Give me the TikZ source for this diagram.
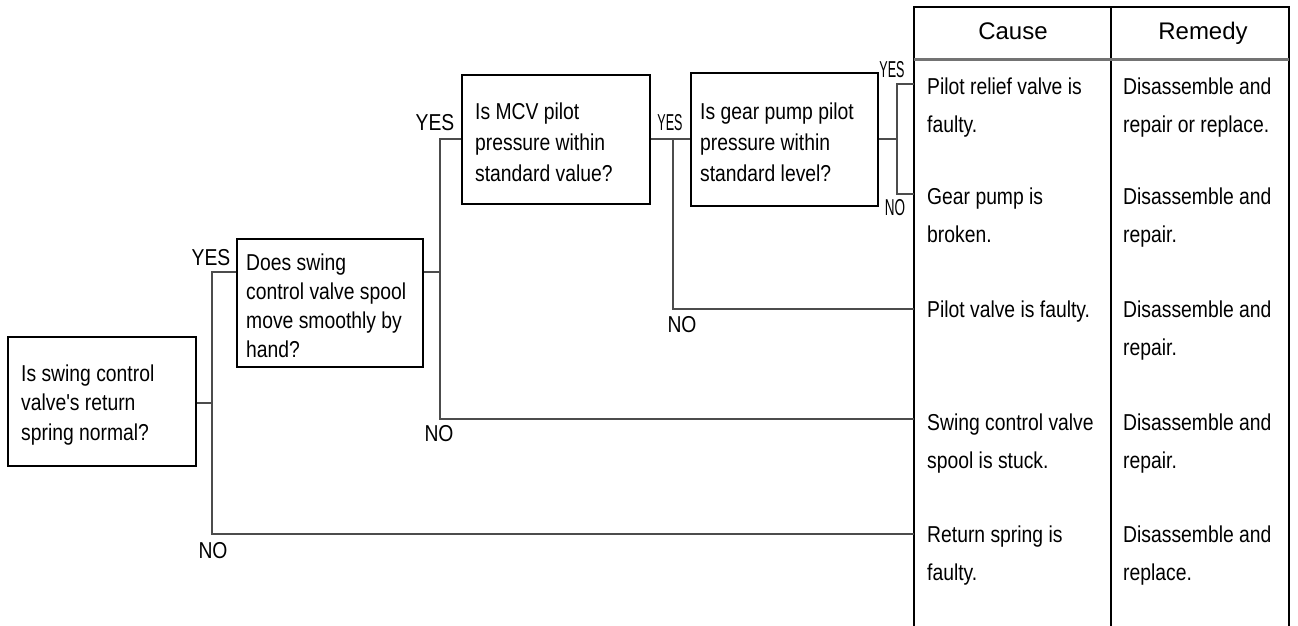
\documentclass[tikz,border=0pt]{standalone}
\usepackage{fontspec}
\usepackage{graphicx}
\setmainfont{Liberation Sans}[FakeStretch=0.84]
\newfontfamily\bodyfont{Liberation Sans}[FakeStretch=0.84]
\newfontfamily\hdrfont{Liberation Sans}
\begin{document}
\begin{tikzpicture}[x=1pt,y=-1pt,
  box/.style={draw=black, line width=1.5pt, rectangle, inner sep=0pt},
  txt/.style={inner sep=0pt, anchor=base west, align=left},
  q295/.style={txt, font=\bodyfont\fontsize{23}{29.5}\selectfont},
  q29/.style={txt, font=\bodyfont\fontsize{23}{29}\selectfont},
  q31/.style={txt, font=\bodyfont\fontsize{23}{31}\selectfont},
  ttxt/.style={txt, font=\bodyfont\fontsize{23}{38}\selectfont},
  hdr/.style={inner sep=0pt, anchor=base, font=\hdrfont\fontsize{24}{28}\selectfont},
  conn/.style={draw=black!70, line width=1.3pt},
  lbl/.style={inner sep=0pt, font=\bodyfont\fontsize{23}{24}\selectfont},
  tline/.style={draw=black, line width=1.6pt}]
\useasboundingbox (0,0) rectangle (1298,626);

% question boxes
\node[box, minimum width=188pt, minimum height=129pt] (b1) at (102,401.5) {};
\node[box, minimum width=186pt, minimum height=128pt] (b2) at (330,303) {};
\node[box, minimum width=188pt, minimum height=129pt] (b3) at (556,139.5) {};
\node[box, minimum width=187pt, minimum height=133pt] (b4) at (784.5,139.5) {};

% (multi-line nodes: base anchor is the last line's baseline)
\node[q295] (q1) at (21,440) {Is swing control\\valve's return\\spring normal?};
\node[q29] (q2) at (246,357) {Does swing\\control valve spool\\move smoothly by\\hand?};
\node[q31] (q3) at (475,181) {Is MCV pilot\\pressure within\\standard value?};
\node[q31] (q4) at (700,181) {Is gear pump pilot\\pressure within\\standard level?};

% table
\coordinate (tl) at (914,0);
\draw[tline] (914,626) -- (914,7) -- (1289,7) -- (1289,626);
\draw[tline] (1111,7) -- (1111,626);
\draw[line width=3pt, draw=black!55] (914,60) -- (1289,60);
\node[hdr] (hc) at (1013,40) {Cause};
\node[hdr] (hr) at (1203,40) {Remedy};

\node[ttxt] (c1) at (927,132) {Pilot relief valve is\\faulty.};
\node[ttxt] (c2) at (927,242) {Gear pump is\\broken.};
\node[ttxt] (c3) at (927,317) {Pilot valve is faulty.};
\node[ttxt] (c4) at (927,468) {Swing control valve\\spool is stuck.};
\node[ttxt] (c5) at (927,580) {Return spring is\\faulty.};

\node[ttxt] (r1) at (1123,132) {Disassemble and\\repair or replace.};
\node[ttxt] (r2) at (1123,242) {Disassemble and\\repair.};
\node[ttxt] (r3) at (1123,355) {Disassemble and\\repair.};
\node[ttxt] (r4) at (1123,468) {Disassemble and\\repair.};
\node[ttxt] (r5) at (1123,580) {Disassemble and\\replace.};

% junctions
\coordinate (j1t) at (212,272);
\coordinate (j1b) at (212,534);
\coordinate (j2t) at (440,139);
\coordinate (j2b) at (440,419);
\coordinate (j3t) at (673,139);
\coordinate (j3b) at (673,309);
\coordinate (j4t) at (897,84);
\coordinate (j4b) at (897,194);

% connectors
\draw[conn] (b1.east |- 0,403) -- (j1t |- 0,403);
\draw[conn] (j1b -| tl) -- (j1b) -- (j1t) -- (j1t -| b2.west);
\draw[conn] (b2.east |- j1t) -- (j2t |- j1t);
\draw[conn] (j2b -| tl) -- (j2b) -- (j2t) -- (j2t -| b3.west);
\draw[conn] (b3.east |- j3t) -- (j3t -| b4.west);
\draw[conn] (j3t) -- (j3b) -- (j3b -| tl);
\draw[conn] (b4.east |- j3t) -- (j4t |- j3t);
\draw[conn] (j4t -| tl) -- (j4t) -- (j4b) -- (j4b -| tl);

% labels
\node[lbl] (y1) at (211,258) {YES};
\node[lbl] (n1) at (213,551) {NO};
\node[lbl] (y2) at (435,123) {YES};
\node[lbl] (n2) at (439,434) {NO};
\node[lbl] (y3) at (670,123) {\scalebox{0.65}[1]{YES}};
\node[lbl] (n3) at (682,325) {NO};
\node[lbl] (y4) at (892,70) {\scalebox{0.65}[1]{YES}};
\node[lbl] (n4) at (895,208) {\scalebox{0.7}[1]{NO}};
\end{tikzpicture}
\end{document}
